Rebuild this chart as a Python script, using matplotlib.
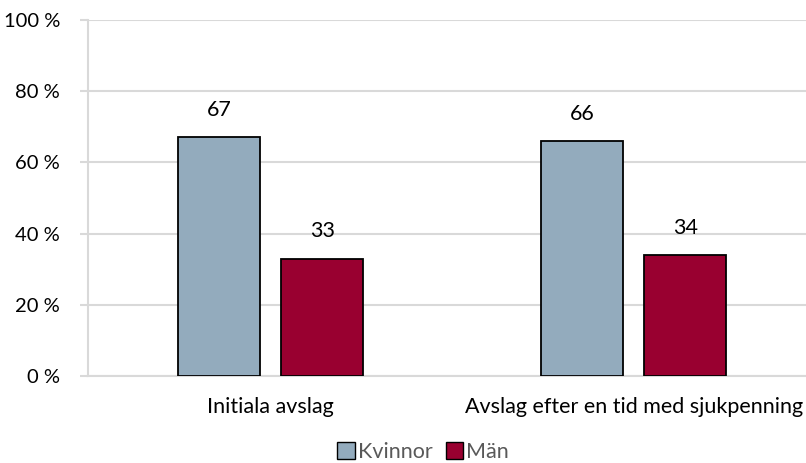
import numpy as np
import matplotlib.pyplot as plt
from matplotlib.patches import Patch

categories = ['Initiala avslag', 'Avslag efter en tid med sjukpenning']
kvinnor = [67, 66]
man = [33, 34]
yticks = [0, 20, 40, 60, 80, 100]

plt.rcParams['font.family'] = ['Lato', 'DejaVu Sans']

fig = plt.figure(figsize=(8.06, 4.63), dpi=100)
ax = fig.add_axes([88 / 806, 1 - 376 / 463, 1 - 88 / 806, 356 / 463])

x = np.arange(len(categories))
w = 0.226
off = 0.142
blue = '#93abbd'
red = '#990030'
fs = 15.5
b1 = ax.bar(x - off, kvinnor, w, color=blue, edgecolor='black', linewidth=1.3, zorder=3)
b2 = ax.bar(x + off, man, w, color=red, edgecolor='black', linewidth=1.3, zorder=3)

for bars, vals in [(b1, kvinnor), (b2, man)]:
    for bar, v in zip(bars, vals):
        ax.text(bar.get_x() + bar.get_width() / 2, v + 4.8, str(v),
                ha='center', va='bottom', fontsize=fs, color='black')

ax.set_xlim(-0.503, 1.475)
ax.set_ylim(0, 100)
ax.set_yticks(yticks)
ax.set_yticklabels([f'{t} %' for t in yticks], fontsize=14.5)
ax.set_xticks(x)
ax.set_xticklabels(categories, fontsize=fs)
ax.tick_params(axis='x', length=0, pad=15)
ax.tick_params(axis='y', length=6, width=1.5, color='#d9d9d9', pad=14)
ax.grid(axis='y', color='#d9d9d9', linewidth=1.5, zorder=0)
for s in ['top', 'right']:
    ax.spines[s].set_visible(False)
ax.spines['left'].set_color('#d9d9d9')
ax.spines['left'].set_linewidth(1.5)
ax.spines['bottom'].set_color('#d9d9d9')
ax.spines['bottom'].set_linewidth(1.5)

handles = [Patch(facecolor=blue, edgecolor='black', label='Kvinnor'),
           Patch(facecolor=red, edgecolor='black', label='Män')]
fig.legend(handles=handles, loc='center', bbox_to_anchor=(0.525, 1 - 452 / 463),
           ncol=2, frameon=False, fontsize=fs, handlelength=0.8, handleheight=0.8,
           handletextpad=0.15, columnspacing=0.6, labelcolor='#595959')

fig.savefig('out.png', dpi=100)
